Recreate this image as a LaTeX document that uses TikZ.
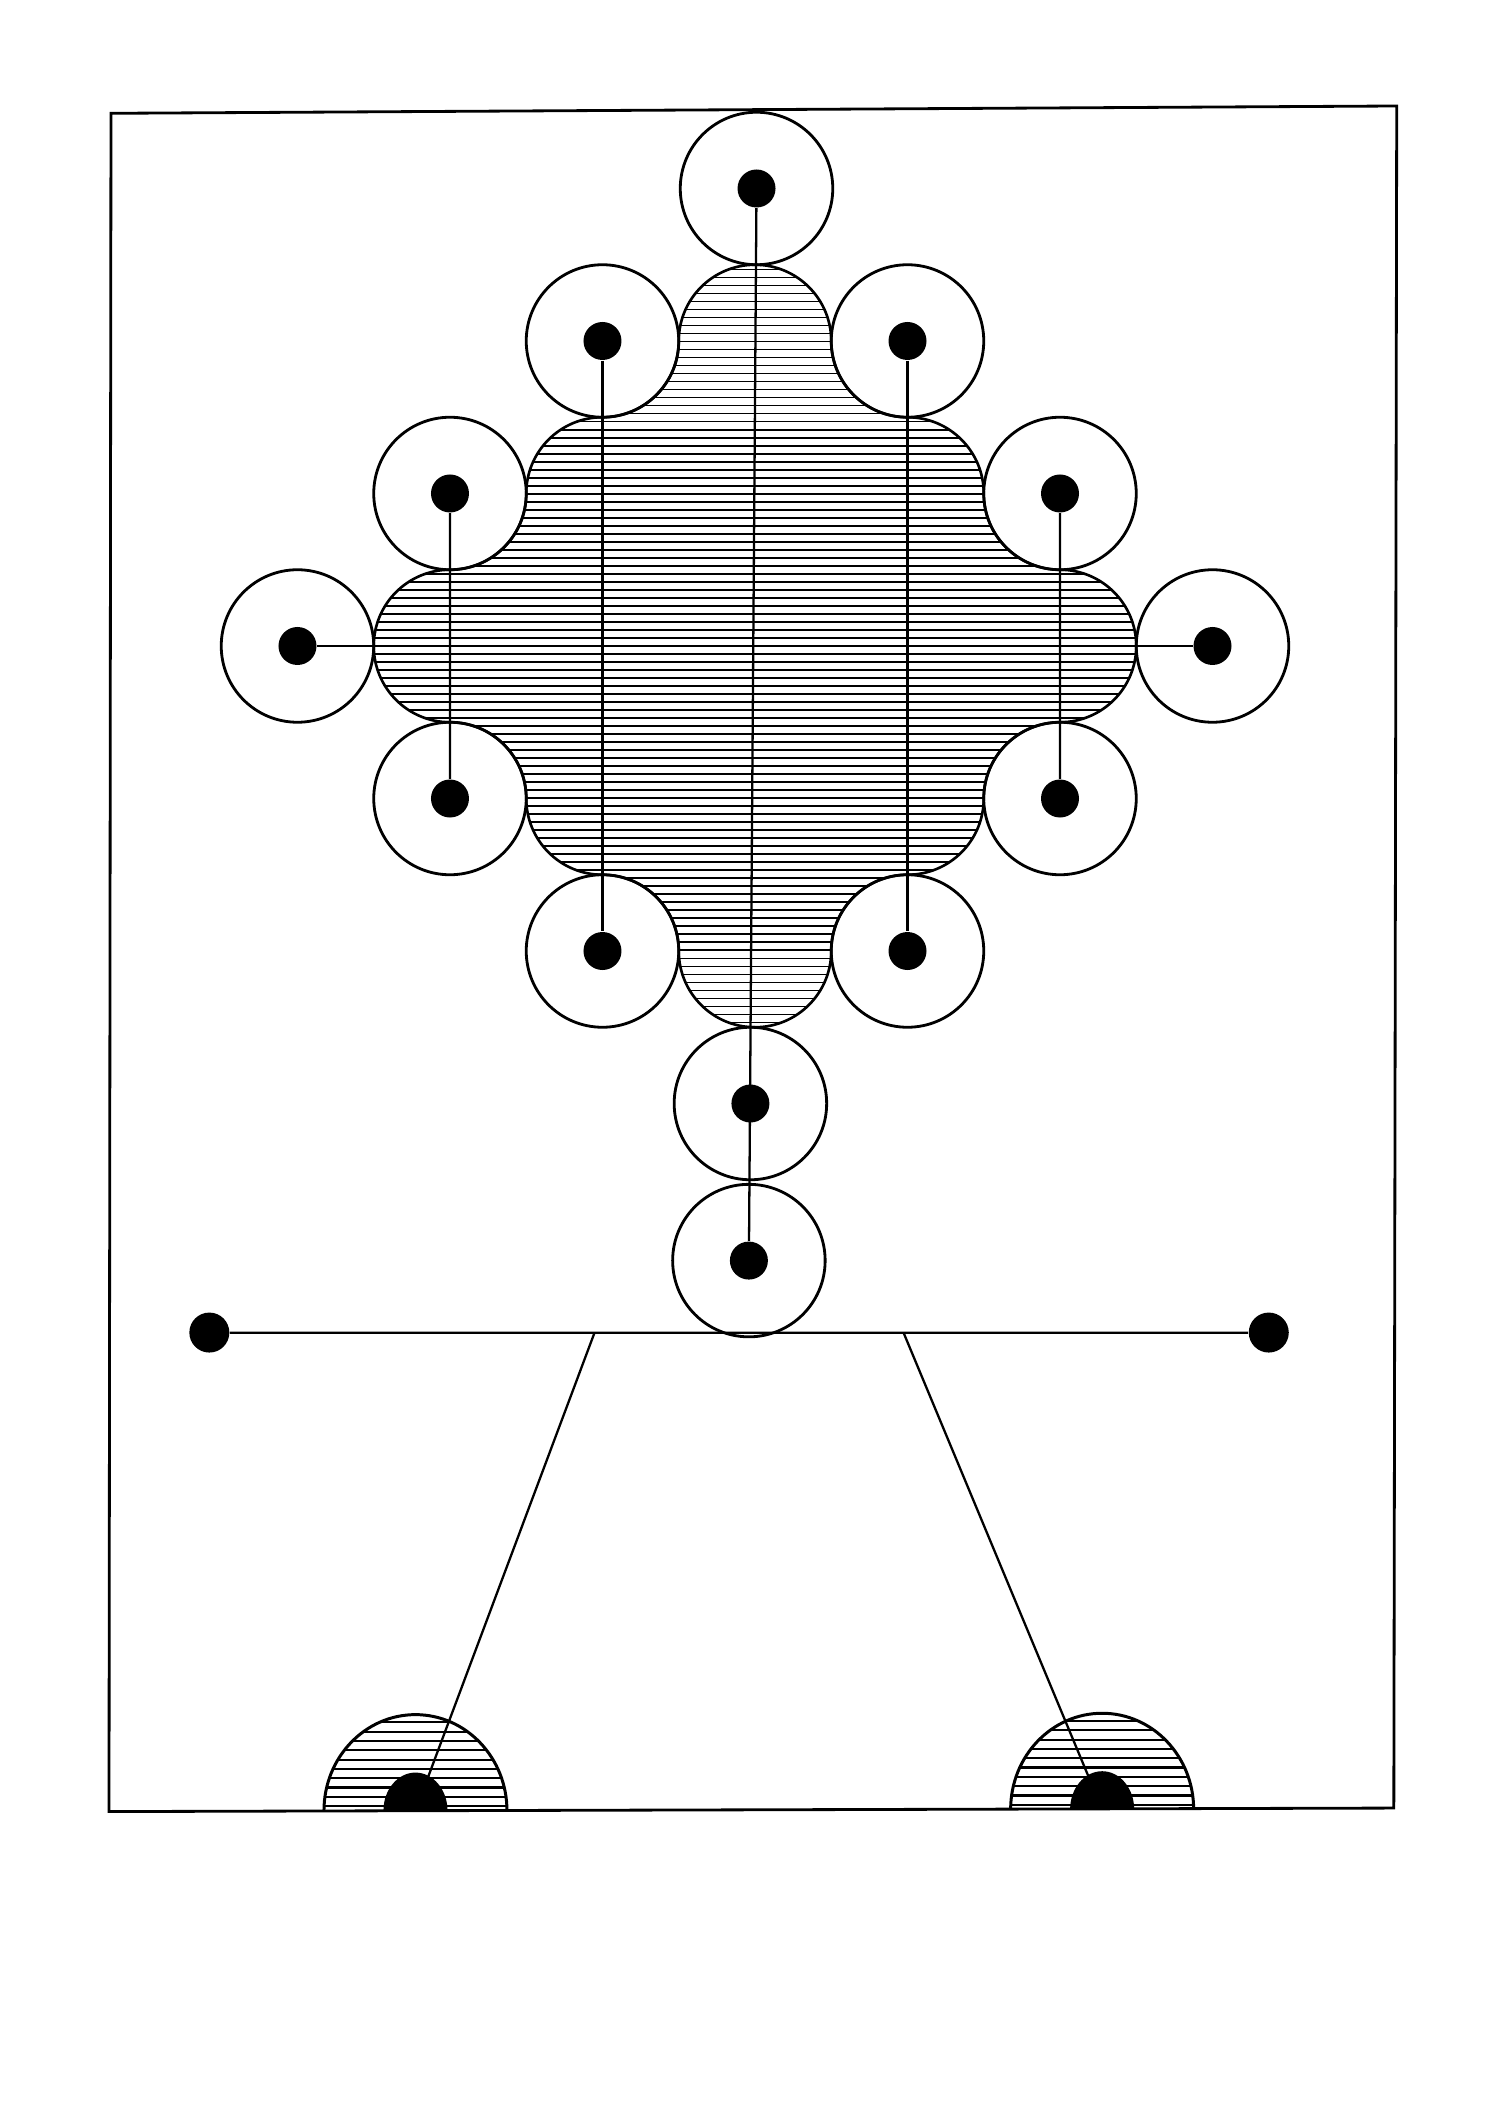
\documentclass[tikz,border=0pt]{standalone}
\begin{document}
\begin{tikzpicture}[scale=1.525,
    ring/.style={circle,draw,line width=0.8pt,minimum size=1.525cm,inner sep=0pt},
    dot/.style={circle,fill=black,minimum size=0.38cm,inner sep=0pt},
    bardot/.style={circle,fill=black,minimum size=0.4cm,inner sep=0pt},
    link/.style={line width=0.65pt},
    hatch/.style={line width=0.42pt},
    feethatch/.style={line width=0.6pt}]
  \useasboundingbox (-4.9508,-9.7049) rectangle (4.8852,4.2361);

  \def\blob{(0.5,2) arc[start angle=0,end angle=180,radius=0.5]
    arc[start angle=0,end angle=-90,radius=0.5]
    arc[start angle=90,end angle=180,radius=0.5]
    arc[start angle=0,end angle=-90,radius=0.5]
    arc[start angle=90,end angle=270,radius=0.5]
    arc[start angle=90,end angle=0,radius=0.5]
    arc[start angle=180,end angle=270,radius=0.5]
    arc[start angle=90,end angle=0,radius=0.5]
    arc[start angle=180,end angle=360,radius=0.5]
    arc[start angle=180,end angle=90,radius=0.5]
    arc[start angle=270,end angle=360,radius=0.5]
    arc[start angle=180,end angle=90,radius=0.5]
    arc[start angle=-90,end angle=90,radius=0.5]
    arc[start angle=270,end angle=180,radius=0.5]
    arc[start angle=0,end angle=90,radius=0.5]
    arc[start angle=270,end angle=180,radius=0.5] -- cycle}

  \draw[line width=0.8pt] (-4.236,-7.643) -- (-4.223,3.493) -- (4.208,3.541) -- (4.189,-7.620) -- cycle;

  % hatched body
  \begin{scope}
    \clip \blob;
    \foreach \k in {0,...,96}
      \draw[hatch] (-2.6,{-2.52+\k*0.0525}) -- (2.6,{-2.52+\k*0.0525});
  \end{scope}
  \draw[line width=0.75pt] \blob;

  \foreach \n/\x/\y in {t/0.01/3, ul/-1/2, ur/1/2, lu/-2/1, ru/2/1, l/-3/0, r/3/0,
      ll/-2/-1, rl/2/-1, dl/-1/-2, dr/1/-2, b1/-0.03/-3, b2/-0.04/-4.03} {
    \node(c\n) at (\x,\y) [ring] {};
    \node(\n) at (\x,\y) [dot] {};
  }

  \draw (t) edge[link] (b2);
  \draw (ul) edge[link] (dl);
  \draw (ur) edge[link] (dr);
  \draw (lu) edge[link] (ll);
  \draw (ru) edge[link] (rl);
  \draw (l) edge[link] (r);

  \node(al) at (-3.578,-4.502) [bardot] {};
  \node(ar) at (3.369,-4.502) [bardot] {};
  \coordinate(hipl) at (-1.052,-4.502);
  \coordinate(hipr) at (0.974,-4.502);
  \coordinate(footl) at (-2.226,-7.636);
  \coordinate(footr) at (2.276,-7.627);

  \draw (al) edge[link] (ar);

  % feet
  \foreach \f in {footl,footr} {
    \begin{scope}
      \clip (\f) ++(-0.6,0) arc[start angle=180,end angle=0,x radius=0.6,y radius=0.63] -- cycle;
      \foreach \k in {0,...,10}
        \draw[feethatch] (\f) ++(-0.7,{0.03+\k*0.061}) -- ++(1.4,0);
    \end{scope}
    \draw[line width=0.85pt] (\f) ++(-0.6,0) arc[start angle=180,end angle=0,x radius=0.6,y radius=0.63];
  }
  \draw (hipl) edge[link] (footl);
  \draw (hipr) edge[link] (footr);
  \fill (footl) ++(-0.21,0) arc[start angle=180,end angle=0,x radius=0.21,y radius=0.25] -- cycle;
  \fill (footr) ++(-0.21,0) arc[start angle=180,end angle=0,x radius=0.21,y radius=0.25] -- cycle;
\end{tikzpicture}
\end{document}
